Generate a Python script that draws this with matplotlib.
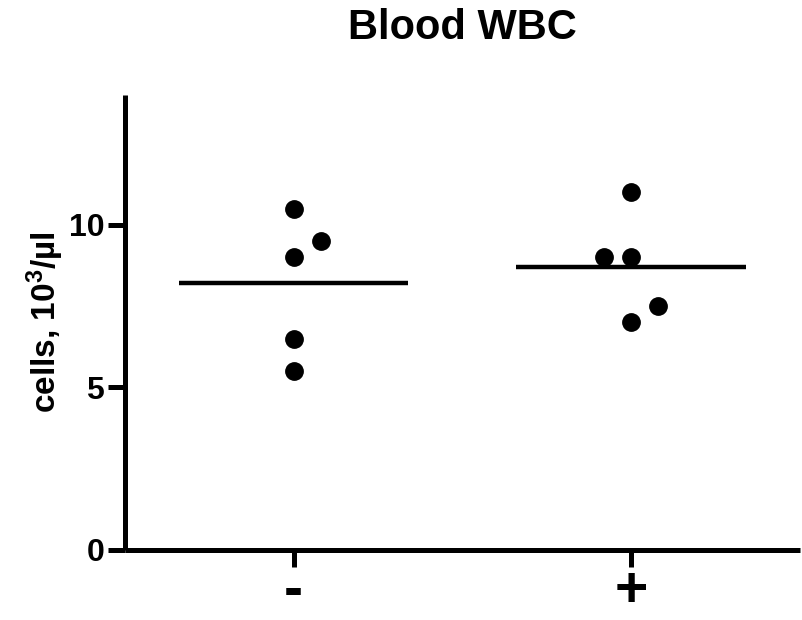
import numpy as np
import matplotlib
matplotlib.use('Agg')
import matplotlib.pyplot as plt

plt.rcParams['font.family'] = ['Liberation Sans', 'DejaVu Sans']
plt.rcParams['font.weight'] = 'bold'
plt.rcParams['mathtext.default'] = 'regular'

groups = ['-', '+']
wbc_neg = [10.5, 9.5, 9.0, 6.5, 5.5]
wbc_pos = [11.0, 9.0, 9.0, 7.5, 7.0]
# swarm slot of each point (left / centre / right), as drawn in the original
slots_neg = [0, 1, 0, 0, 0]
slots_pos = [0, -1, 0, 1, 0]

slot_w = 0.08
half = 0.34

fig = plt.figure(figsize=(8.03, 6.2), dpi=100)
ax = fig.add_axes([0.1557, 0.113, 0.8403, 0.734])

for i, (vals, slots) in enumerate([(wbc_neg, slots_neg), (wbc_pos, slots_pos)]):
    vals = np.asarray(vals)
    xs = i + slot_w * np.asarray(slots)
    ax.plot(xs, vals, 'o', color='black', markersize=12.5, linestyle='none', clip_on=False)
    m = vals.mean()
    ax.plot([i - half, i + half], [m, m], color='black', lw=3.2, solid_capstyle='butt')

ax.set_xlim(-0.5, 1.5)
ax.set_ylim(0, 14)
ax.set_yticks([0, 5, 10])
ax.set_xticks([0, 1])
ax.set_xticklabels(groups, fontsize=41, fontweight='bold')
for t in ax.get_yticklabels():
    t.set_fontsize(23)
    t.set_fontweight('bold')

for s in ['top', 'right']:
    ax.spines[s].set_visible(False)
for s in ['left', 'bottom']:
    ax.spines[s].set_linewidth(3.6)
    ax.spines[s].set_capstyle('butt')
ax.tick_params(axis='both', width=3.6, length=12, direction='out', pad=3)
ax.tick_params(axis='x', pad=-1)

ax.set_ylabel('cells, 10$^{3}$/µl', fontsize=24, fontweight='bold', labelpad=2)
ax.set_title('Blood WBC', fontsize=30, fontweight='bold', pad=40)

fig.savefig('out.png', dpi=100)
